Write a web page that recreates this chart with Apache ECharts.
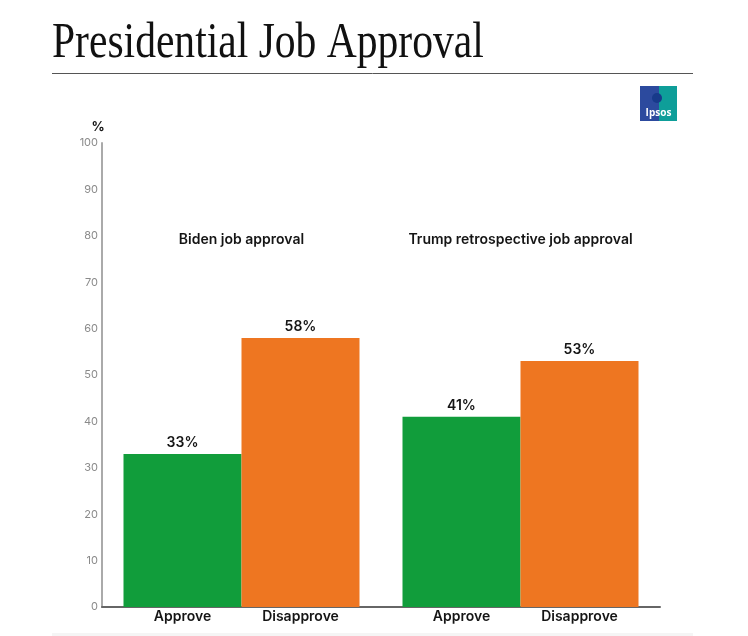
<!DOCTYPE html>
<html><head><meta charset="utf-8">
<script src="https://cdn.jsdelivr.net/npm/echarts@6/dist/echarts.min.js"></script>
<style>html,body{margin:0;padding:0;background:#fff}#c{width:748px;height:636px}</style>
</head><body><div id="c"></div>
<script>
const titleText = 'Presidential Job Approval';
const groups = ['Biden job approval', 'Trump retrospective job approval'];
const seriesNames = ['Approve', 'Disapprove'];
const approve = [33, 41];
const disapprove = [58, 53];
const yMin = 0, yMax = 100, yStep = 10;
const headingY = 80;

const GREEN = '#119D3B', ORANGE = '#EE7621';
const FONT = 'Inter';

const chart = echarts.init(document.getElementById('c'), null, {renderer: 'canvas'});

function valueLabel() {
  return {show: true, position: 'top', distance: 4, formatter: '{c}%', color: '#151515',
          fontFamily: FONT, fontWeight: 600, fontSize: 14};
}
function nameLabel() {
  return {show: true, position: 'bottom', distance: 3, formatter: '{a}', color: '#151515',
          fontFamily: FONT, fontWeight: 600, fontSize: 14};
}

const option = {
  animation: false,
  backgroundColor: '#fff',
  grid: {left: 102, right: 88, top: 143, bottom: 29, containLabel: false},
  xAxis: [
    {type: 'category', data: groups, axisLabel: {show: false}, axisTick: {show: false},
     axisLine: {show: true, lineStyle: {color: '#666', width: 2}}},
    {type: 'category', data: groups, show: false, position: 'bottom'}
  ],
  yAxis: {
    type: 'value', min: yMin, max: yMax, interval: yStep,
    name: '%', nameLocation: 'end', nameGap: 9,
    nameTextStyle: {color: '#151515', fontFamily: FONT, fontWeight: 700, fontSize: 13, padding: [0, 8, 0, 0]},
    splitLine: {show: false}, axisTick: {show: false},
    axisLine: {show: true, lineStyle: {color: '#aaa', width: 2}},
    axisLabel: {color: '#8a8a8a', fontFamily: FONT, fontSize: 11, margin: 4}
  },
  series: [
    {name: seriesNames[0], type: 'bar', xAxisIndex: 0, data: approve, barWidth: 118, barGap: '0%',
     itemStyle: {color: GREEN}, label: valueLabel()},
    {name: seriesNames[1], type: 'bar', xAxisIndex: 0, data: disapprove, barWidth: 118, barGap: '0%',
     itemStyle: {color: ORANGE}, label: valueLabel()},
    {name: seriesNames[0], type: 'bar', xAxisIndex: 1, data: approve, barWidth: 118, barGap: '0%',
     itemStyle: {color: 'rgba(0,0,0,0)'}, label: nameLabel(), silent: true, z: 1},
    {name: seriesNames[1], type: 'bar', xAxisIndex: 1, data: disapprove, barWidth: 118, barGap: '0%',
     itemStyle: {color: 'rgba(0,0,0,0)'}, label: nameLabel(), silent: true, z: 1}
  ],
  graphic: [
    {type: 'text', id: 'title', x: 52, y: 44, scaleX: 0.866, scaleY: 1.04, originX: 0, originY: 0,
     style: {text: titleText, fontFamily: '"Liberation Serif", "DejaVu Serif", serif', fontSize: 48,
             fill: '#111', verticalAlign: 'middle', align: 'left'}},
    {type: 'line', shape: {x1: 52, y1: 73.5, x2: 693, y2: 73.5}, style: {stroke: '#555', lineWidth: 1}},
    {type: 'rect', shape: {x: 640, y: 86, width: 37, height: 35}, style: {fill: '#0E9E99'}},
    {type: 'rect', shape: {x: 640, y: 86, width: 19, height: 35}, style: {fill: '#2C4A9E'}},
    {type: 'circle', shape: {cx: 657, cy: 98, r: 5}, style: {fill: '#173A8A'}},
    {type: 'text', x: 658.5, y: 113, style: {text: 'Ipsos', fill: '#fff', fontFamily: 'Open Sans',
     fontWeight: 700, fontSize: 10, align: 'center', verticalAlign: 'middle'}},
    {type: 'rect', shape: {x: 52, y: 633, width: 641, height: 3}, style: {fill: '#f5f5f5'}}
  ]
};
chart.setOption(option);

const hy = chart.convertToPixel({yAxisIndex: 0}, headingY) + 4;
const headings = groups.map(function (g, i) {
  return {type: 'text', id: 'heading' + i, x: chart.convertToPixel({xAxisIndex: 0}, g), y: hy,
          style: {text: g, fill: '#151515', fontFamily: FONT, fontWeight: 600, fontSize: 14,
                  align: 'center', verticalAlign: 'middle'}};
});
chart.setOption({graphic: headings});
</script></body></html>
